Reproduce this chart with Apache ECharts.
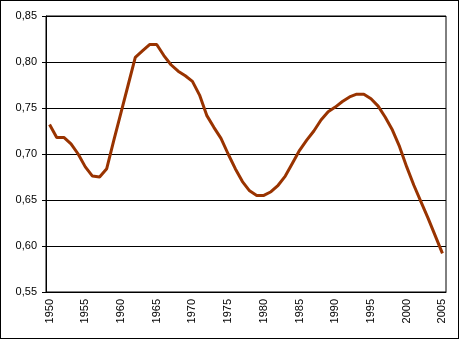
<!DOCTYPE html>
<html>
<head>
<meta charset="utf-8">
<script src="https://cdn.jsdelivr.net/npm/echarts@6/dist/echarts.min.js"></script>
<style>
  html, body { margin: 0; padding: 0; background: #fff; }
  #main { width: 457px; height: 337px; border: 1px solid #000; }
</style>
</head>
<body>
<div id="main"></div>
<script>
// years 1950..2005
var years = [];
for (var y = 1950; y <= 2005; y++) years.push(String(y));

// values
var values = [
  0.732, 0.718, 0.718, 0.711, 0.700, 0.686, 0.676, 0.675, 0.684, 0.715,
  0.745, 0.775, 0.805, 0.812, 0.819, 0.819, 0.807, 0.797, 0.790, 0.785,
  0.779, 0.764, 0.742, 0.729, 0.717, 0.700, 0.684, 0.670, 0.660, 0.655,
  0.655, 0.659, 0.666, 0.676, 0.690, 0.704, 0.715, 0.725, 0.737, 0.746,
  0.751, 0.757, 0.762, 0.765, 0.765, 0.760, 0.752, 0.740, 0.726, 0.708,
  0.686, 0.666, 0.648, 0.630, 0.611, 0.592
];

var yTicks = { min: 0.55, max: 0.85, step: 0.05 };

var myChart = echarts.init(document.getElementById('main'));

var option = {
  animation: false,
  textStyle: { fontFamily: 'Liberation Sans, Arial, sans-serif' },
  grid: {
    left: 45, top: 15, width: 400, height: 276,
    show: true, borderColor: '#000', borderWidth: 1, backgroundColor: '#fff'
  },
  xAxis: {
    type: 'category',
    data: years,
    boundaryGap: true,
    axisLine: { lineStyle: { color: '#000', width: 1 } },
    axisTick: { interval: 0, length: 4, lineStyle: { color: '#000' } },
    axisLabel: {
      interval: 4, rotate: 90, margin: 7,
      color: '#000', fontSize: 11
    },
    splitLine: { show: false }
  },
  yAxis: {
    type: 'value',
    min: yTicks.min, max: yTicks.max, interval: yTicks.step,
    axisLine: { show: true, lineStyle: { color: '#000', width: 1 } },
    axisTick: { show: true, length: 4, lineStyle: { color: '#000' } },
    axisLabel: {
      margin: 9, color: '#000', fontSize: 11,
      formatter: function (v) { return v.toFixed(2).replace('.', ','); }
    },
    splitLine: { lineStyle: { color: '#000', width: 1 } }
  },
  series: [{
    type: 'line',
    data: values,
    showSymbol: false,
    lineStyle: { color: '#993300', width: 3 },
    itemStyle: { color: '#993300' }
  }]
};

myChart.setOption(option);
</script>
</body>
</html>
